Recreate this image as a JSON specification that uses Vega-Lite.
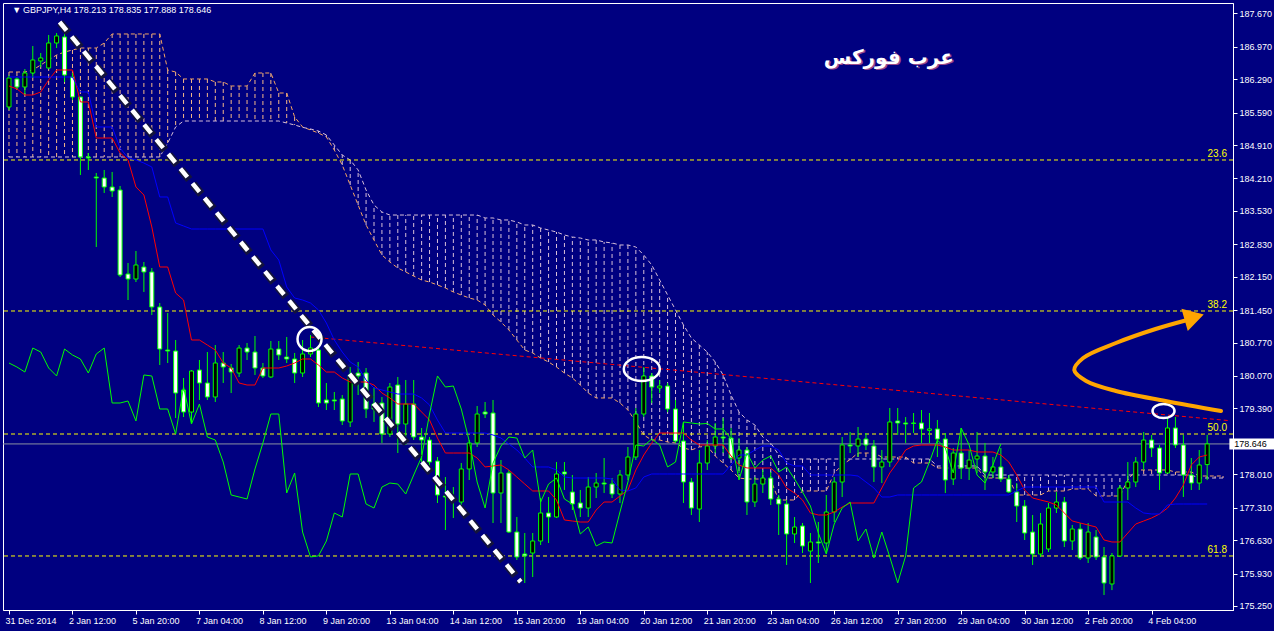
{
"$schema":"https://vega.github.io/schema/vega-lite/v6.json",
"width":1230,"height":607,
"autosize":{"type":"none"},
"padding":{"left":3,"top":3,"right":41,"bottom":21},
"background":"#000080",
"config":{"view":{"stroke":"#FFFFFF","strokeWidth":1},"axis":{"labelFont":"Liberation Sans","labelFontSize":9,"labelColor":"#FFFFFF","tickColor":"#FFFFFF","domainColor":"#FFFFFF","grid":false}},
"datasets":{"bars":[
{"i":0,"o":185.707,"h":186.377,"l":185.644,"c":186.314,"tk":186.147,"kj":186.335,"ck":180.342,"sa":186.440,"sb":184.659},
{"i":1,"o":186.294,"h":186.335,"l":186.084,"c":186.126,"tk":186.084,"kj":186.335,"ck":180.258,"sa":186.440,"sb":184.659},
{"i":2,"o":186.126,"h":186.503,"l":185.958,"c":186.419,"tk":185.958,"kj":186.335,"ck":180.153,"sa":186.440,"sb":184.659},
{"i":3,"o":186.419,"h":186.985,"l":186.314,"c":186.692,"tk":185.958,"kj":186.335,"ck":180.656,"sa":186.482,"sb":184.659},
{"i":4,"o":186.671,"h":186.838,"l":186.545,"c":186.734,"tk":186.021,"kj":186.335,"ck":180.572,"sa":186.587,"sb":184.659},
{"i":5,"o":186.524,"h":187.216,"l":186.503,"c":187.048,"tk":186.273,"kj":186.335,"ck":180.237,"sa":186.692,"sb":184.659},
{"i":6,"o":187.048,"h":187.257,"l":186.943,"c":187.195,"tk":186.482,"kj":186.335,"ck":180.070,"sa":186.796,"sb":184.659},
{"i":7,"o":187.174,"h":187.257,"l":186.231,"c":186.377,"tk":186.482,"kj":186.335,"ck":180.635,"sa":186.859,"sb":184.659},
{"i":8,"o":186.335,"h":186.419,"l":185.853,"c":185.916,"tk":186.482,"kj":186.335,"ck":180.510,"sa":186.901,"sb":184.659},
{"i":9,"o":185.916,"h":185.916,"l":184.282,"c":184.659,"tk":185.812,"kj":186.021,"ck":180.426,"sa":186.943,"sb":184.659},
{"i":10,"o":184.659,"h":184.743,"l":184.387,"c":184.638,"tk":185.812,"kj":186.021,"ck":180.132,"sa":186.943,"sb":184.659},
{"i":11,"o":184.240,"h":184.324,"l":182.773,"c":184.219,"tk":185.057,"kj":185.288,"ck":180.531,"sa":186.943,"sb":184.659},
{"i":12,"o":184.219,"h":184.387,"l":183.905,"c":184.030,"tk":185.057,"kj":185.288,"ck":180.656,"sa":187.048,"sb":184.659},
{"i":13,"o":184.030,"h":184.345,"l":183.821,"c":183.946,"tk":185.057,"kj":185.288,"ck":179.504,"sa":187.237,"sb":184.659},
{"i":14,"o":183.967,"h":184.051,"l":182.144,"c":182.186,"tk":184.743,"kj":184.848,"ck":179.504,"sa":187.237,"sb":184.659},
{"i":15,"o":182.207,"h":182.438,"l":181.662,"c":182.102,"tk":184.596,"kj":184.638,"ck":179.546,"sa":187.237,"sb":184.659},
{"i":16,"o":182.102,"h":182.689,"l":182.039,"c":182.396,"tk":184.030,"kj":184.596,"ck":179.127,"sa":187.237,"sb":184.659},
{"i":17,"o":182.354,"h":182.459,"l":181.830,"c":182.249,"tk":183.863,"kj":184.533,"ck":180.091,"sa":187.237,"sb":184.659},
{"i":18,"o":182.249,"h":182.333,"l":181.348,"c":181.516,"tk":183.192,"kj":184.449,"ck":180.070,"sa":187.237,"sb":184.659},
{"i":19,"o":181.516,"h":181.599,"l":180.300,"c":180.635,"tk":182.354,"kj":183.821,"ck":179.378,"sa":187.237,"sb":184.659},
{"i":20,"o":180.614,"h":181.390,"l":180.342,"c":180.593,"tk":182.354,"kj":183.821,"ck":179.378,"sa":186.482,"sb":184.952},
{"i":21,"o":180.593,"h":180.824,"l":179.189,"c":179.713,"tk":181.809,"kj":183.276,"ck":178.854,"sa":186.440,"sb":185.288},
{"i":22,"o":179.776,"h":180.028,"l":179.210,"c":179.315,"tk":181.662,"kj":183.213,"ck":179.839,"sa":186.294,"sb":185.413},
{"i":23,"o":179.315,"h":180.195,"l":179.085,"c":180.174,"tk":180.824,"kj":183.150,"ck":179.064,"sa":186.294,"sb":185.413},
{"i":24,"o":180.195,"h":180.405,"l":179.567,"c":179.923,"tk":180.824,"kj":183.150,"ck":179.483,"sa":186.294,"sb":185.413},
{"i":25,"o":179.923,"h":180.572,"l":179.567,"c":179.630,"tk":180.719,"kj":183.150,"ck":178.791,"sa":186.294,"sb":185.413},
{"i":26,"o":179.630,"h":180.719,"l":179.525,"c":180.342,"tk":180.614,"kj":183.150,"ck":178.728,"sa":186.231,"sb":185.413},
{"i":27,"o":180.342,"h":180.572,"l":179.923,"c":180.258,"tk":180.342,"kj":183.150,"ck":178.267,"sa":186.231,"sb":185.413},
{"i":28,"o":180.237,"h":180.321,"l":179.713,"c":180.153,"tk":180.237,"kj":183.150,"ck":177.576,"sa":186.147,"sb":185.413},
{"i":29,"o":180.132,"h":180.719,"l":180.049,"c":180.656,"tk":179.923,"kj":183.150,"ck":177.534,"sa":186.147,"sb":185.413},
{"i":30,"o":180.656,"h":180.761,"l":180.405,"c":180.572,"tk":179.881,"kj":183.150,"ck":177.492,"sa":186.147,"sb":185.413},
{"i":31,"o":180.572,"h":180.908,"l":180.091,"c":180.237,"tk":179.881,"kj":183.150,"ck":178.121,"sa":186.419,"sb":185.413},
{"i":32,"o":180.237,"h":180.342,"l":180.028,"c":180.070,"tk":180.237,"kj":183.150,"ck":178.666,"sa":186.419,"sb":185.413},
{"i":33,"o":180.049,"h":180.803,"l":180.028,"c":180.635,"tk":180.237,"kj":182.710,"ck":179.273,"sa":186.419,"sb":185.413},
{"i":34,"o":180.635,"h":180.803,"l":180.405,"c":180.510,"tk":180.237,"kj":182.500,"ck":179.273,"sa":186.000,"sb":185.413},
{"i":35,"o":180.468,"h":180.887,"l":180.342,"c":180.426,"tk":180.279,"kj":181.935,"ck":177.618,"sa":186.000,"sb":185.371},
{"i":36,"o":180.426,"h":180.552,"l":179.923,"c":180.132,"tk":180.342,"kj":181.704,"ck":178.037,"sa":185.497,"sb":185.330},
{"i":37,"o":180.132,"h":180.824,"l":180.049,"c":180.531,"tk":180.426,"kj":181.662,"ck":176.800,"sa":185.288,"sb":185.280},
{"i":38,"o":180.531,"h":180.929,"l":180.468,"c":180.656,"tk":180.426,"kj":181.599,"ck":176.277,"sa":185.225,"sb":185.246},
{"i":39,"o":180.614,"h":180.719,"l":179.420,"c":179.504,"tk":180.300,"kj":181.453,"ck":176.300,"sa":185.162,"sb":185.204},
{"i":40,"o":179.567,"h":179.923,"l":179.357,"c":179.504,"tk":180.153,"kj":181.180,"ck":176.612,"sa":185.078,"sb":185.120},
{"i":41,"o":179.567,"h":179.734,"l":179.357,"c":179.546,"tk":180.153,"kj":180.824,"ck":177.199,"sa":184.806,"sb":184.910},
{"i":42,"o":179.588,"h":179.671,"l":179.043,"c":179.127,"tk":180.028,"kj":180.572,"ck":177.115,"sa":184.491,"sb":184.701},
{"i":43,"o":179.106,"h":180.258,"l":179.001,"c":180.091,"tk":179.944,"kj":180.363,"ck":178.016,"sa":184.072,"sb":184.596},
{"i":44,"o":180.132,"h":180.363,"l":179.671,"c":180.070,"tk":179.944,"kj":180.258,"ck":178.016,"sa":183.653,"sb":184.387},
{"i":45,"o":180.132,"h":180.237,"l":179.189,"c":179.378,"tk":179.944,"kj":179.986,"ck":177.387,"sa":183.234,"sb":183.967},
{"i":46,"o":179.483,"h":179.839,"l":179.106,"c":179.378,"tk":179.881,"kj":179.818,"ck":177.303,"sa":182.920,"sb":183.653},
{"i":47,"o":179.504,"h":179.630,"l":178.666,"c":178.854,"tk":179.713,"kj":179.776,"ck":177.743,"sa":182.605,"sb":183.506},
{"i":48,"o":178.854,"h":179.923,"l":178.791,"c":179.839,"tk":179.609,"kj":179.734,"ck":177.827,"sa":182.459,"sb":183.443},
{"i":49,"o":179.881,"h":180.049,"l":178.456,"c":179.064,"tk":179.483,"kj":179.692,"ck":177.806,"sa":182.333,"sb":183.443},
{"i":50,"o":179.064,"h":179.986,"l":178.624,"c":179.483,"tk":179.483,"kj":179.692,"ck":177.597,"sa":182.249,"sb":183.443},
{"i":51,"o":179.483,"h":179.986,"l":178.728,"c":178.791,"tk":179.483,"kj":179.692,"ck":177.995,"sa":182.165,"sb":183.443},
{"i":52,"o":178.791,"h":178.980,"l":178.267,"c":178.728,"tk":179.315,"kj":179.609,"ck":178.372,"sa":182.081,"sb":183.443},
{"i":53,"o":178.728,"h":178.791,"l":178.163,"c":178.267,"tk":179.148,"kj":179.462,"ck":179.273,"sa":182.039,"sb":183.443},
{"i":54,"o":178.288,"h":178.372,"l":177.408,"c":177.576,"tk":178.770,"kj":179.148,"ck":180.070,"sa":181.977,"sb":183.443},
{"i":55,"o":177.555,"h":177.953,"l":176.842,"c":177.534,"tk":178.456,"kj":178.875,"ck":179.839,"sa":181.914,"sb":183.443},
{"i":56,"o":177.513,"h":177.743,"l":177.094,"c":177.492,"tk":178.456,"kj":178.875,"ck":179.860,"sa":181.830,"sb":183.443},
{"i":57,"o":177.429,"h":178.246,"l":177.261,"c":178.121,"tk":178.456,"kj":178.875,"ck":179.378,"sa":181.767,"sb":183.443},
{"i":58,"o":178.121,"h":178.728,"l":177.890,"c":178.666,"tk":178.456,"kj":178.875,"ck":178.707,"sa":181.704,"sb":183.443},
{"i":59,"o":178.666,"h":179.441,"l":178.582,"c":179.273,"tk":178.351,"kj":178.875,"ck":177.848,"sa":181.662,"sb":183.443},
{"i":60,"o":179.315,"h":179.525,"l":179.189,"c":179.273,"tk":178.163,"kj":178.875,"ck":177.303,"sa":181.558,"sb":183.381},
{"i":61,"o":179.294,"h":179.567,"l":176.989,"c":177.618,"tk":178.184,"kj":178.833,"ck":178.246,"sa":181.348,"sb":183.381},
{"i":62,"o":177.618,"h":178.309,"l":176.989,"c":178.037,"tk":178.205,"kj":178.770,"ck":178.603,"sa":181.201,"sb":183.339},
{"i":63,"o":178.037,"h":178.100,"l":176.779,"c":176.800,"tk":178.100,"kj":178.645,"ck":178.791,"sa":181.034,"sb":183.339},
{"i":64,"o":176.800,"h":177.115,"l":176.214,"c":176.277,"tk":177.953,"kj":178.519,"ck":178.770,"sa":180.824,"sb":183.297},
{"i":65,"o":176.340,"h":176.779,"l":175.732,"c":176.300,"tk":177.806,"kj":178.351,"ck":178.351,"sa":180.614,"sb":183.234},
{"i":66,"o":176.360,"h":176.779,"l":175.857,"c":176.612,"tk":177.660,"kj":178.163,"ck":178.519,"sa":180.552,"sb":183.234},
{"i":67,"o":176.612,"h":177.513,"l":176.528,"c":177.199,"tk":177.660,"kj":178.163,"ck":177.429,"sa":180.447,"sb":183.171},
{"i":68,"o":177.199,"h":177.534,"l":176.570,"c":177.115,"tk":177.660,"kj":178.163,"ck":177.806,"sa":180.363,"sb":183.129},
{"i":69,"o":177.115,"h":178.267,"l":177.094,"c":178.016,"tk":177.471,"kj":178.100,"ck":177.932,"sa":180.258,"sb":183.087},
{"i":70,"o":178.058,"h":178.267,"l":177.681,"c":178.016,"tk":177.052,"kj":177.953,"ck":177.492,"sa":180.132,"sb":183.024},
{"i":71,"o":177.639,"h":177.995,"l":177.261,"c":177.387,"tk":177.031,"kj":177.932,"ck":177.387,"sa":180.028,"sb":182.982},
{"i":72,"o":177.408,"h":177.681,"l":177.115,"c":177.303,"tk":177.010,"kj":177.932,"ck":176.759,"sa":179.881,"sb":182.961},
{"i":73,"o":177.303,"h":177.953,"l":177.115,"c":177.743,"tk":177.010,"kj":177.932,"ck":176.905,"sa":179.713,"sb":182.920},
{"i":74,"o":177.743,"h":178.037,"l":177.513,"c":177.827,"tk":177.261,"kj":177.932,"ck":176.507,"sa":179.609,"sb":182.920},
{"i":75,"o":177.827,"h":178.351,"l":177.618,"c":177.806,"tk":177.429,"kj":177.932,"ck":176.591,"sa":179.609,"sb":182.878},
{"i":76,"o":177.806,"h":177.932,"l":177.513,"c":177.597,"tk":177.429,"kj":177.911,"ck":176.570,"sa":179.609,"sb":182.857},
{"i":77,"o":177.597,"h":178.100,"l":177.408,"c":177.995,"tk":177.555,"kj":177.681,"ck":177.220,"sa":179.504,"sb":182.815},
{"i":78,"o":177.995,"h":178.582,"l":177.890,"c":178.372,"tk":177.681,"kj":177.660,"ck":177.848,"sa":179.357,"sb":182.815},
{"i":79,"o":178.372,"h":179.399,"l":178.309,"c":179.273,"tk":178.100,"kj":177.723,"ck":178.624,"sa":179.106,"sb":182.773},
{"i":80,"o":179.273,"h":180.258,"l":179.210,"c":180.070,"tk":178.414,"kj":177.953,"ck":178.603,"sa":178.833,"sb":182.605},
{"i":81,"o":180.070,"h":180.132,"l":179.504,"c":179.839,"tk":178.666,"kj":178.016,"ck":178.749,"sa":178.728,"sb":182.396},
{"i":82,"o":179.818,"h":179.986,"l":179.713,"c":179.860,"tk":178.875,"kj":178.016,"ck":178.624,"sa":178.728,"sb":182.081},
{"i":83,"o":179.860,"h":179.923,"l":179.315,"c":179.378,"tk":178.875,"kj":178.016,"ck":178.163,"sa":178.687,"sb":181.767},
{"i":84,"o":179.378,"h":179.567,"l":178.666,"c":178.707,"tk":178.875,"kj":178.016,"ck":178.267,"sa":178.666,"sb":181.453},
{"i":85,"o":178.707,"h":179.106,"l":177.408,"c":177.848,"tk":178.875,"kj":178.016,"ck":179.106,"sa":178.561,"sb":181.138},
{"i":86,"o":177.848,"h":177.932,"l":177.157,"c":177.303,"tk":178.728,"kj":178.016,"ck":179.085,"sa":178.519,"sb":180.866},
{"i":87,"o":177.282,"h":178.519,"l":177.010,"c":178.246,"tk":178.624,"kj":178.016,"ck":179.064,"sa":178.582,"sb":180.719},
{"i":88,"o":178.246,"h":178.728,"l":178.100,"c":178.603,"tk":178.624,"kj":178.016,"ck":179.075,"sa":178.603,"sb":180.572},
{"i":89,"o":178.603,"h":179.085,"l":178.456,"c":178.791,"tk":178.624,"kj":178.016,"ck":178.959,"sa":178.393,"sb":180.363},
{"i":90,"o":178.791,"h":179.189,"l":178.456,"c":178.770,"tk":178.624,"kj":178.016,"ck":178.960,"sa":178.246,"sb":180.091},
{"i":91,"o":178.770,"h":178.980,"l":178.309,"c":178.351,"tk":178.393,"kj":178.205,"ck":178.749,"sa":178.100,"sb":179.671},
{"i":92,"o":178.351,"h":178.770,"l":178.037,"c":178.519,"tk":178.205,"kj":178.414,"ck":177.890,"sa":177.932,"sb":179.315},
{"i":93,"o":178.519,"h":178.582,"l":177.157,"c":177.429,"tk":178.142,"kj":178.414,"ck":178.456,"sa":177.911,"sb":179.148},
{"i":94,"o":177.429,"h":177.953,"l":177.324,"c":177.806,"tk":178.142,"kj":178.519,"ck":178.142,"sa":177.911,"sb":179.043},
{"i":95,"o":177.806,"h":178.100,"l":177.618,"c":177.932,"tk":178.142,"kj":178.603,"ck":178.309,"sa":177.911,"sb":178.791},
{"i":96,"o":177.932,"h":178.058,"l":177.366,"c":177.492,"tk":178.142,"kj":178.603,"ck":178.393,"sa":177.890,"sb":178.666},
{"i":97,"o":177.492,"h":177.576,"l":176.738,"c":177.387,"tk":177.995,"kj":178.519,"ck":178.058,"sa":177.471,"sb":178.414},
{"i":98,"o":177.387,"h":177.471,"l":176.109,"c":176.759,"tk":177.723,"kj":178.246,"ck":178.163,"sa":177.471,"sb":178.330},
{"i":99,"o":176.759,"h":177.115,"l":176.570,"c":176.905,"tk":177.618,"kj":178.184,"ck":177.911,"sa":177.471,"sb":178.330},
{"i":100,"o":176.926,"h":176.989,"l":176.360,"c":176.507,"tk":177.471,"kj":178.184,"ck":177.639,"sa":177.660,"sb":178.330},
{"i":101,"o":176.402,"h":176.779,"l":175.732,"c":176.591,"tk":177.199,"kj":177.995,"ck":177.345,"sa":177.660,"sb":178.330},
{"i":102,"o":176.591,"h":177.010,"l":176.151,"c":176.570,"tk":177.157,"kj":177.995,"ck":176.779,"sa":177.660,"sb":178.330},
{"i":103,"o":176.570,"h":177.576,"l":176.360,"c":177.220,"tk":177.157,"kj":177.995,"ck":176.339,"sa":177.660,"sb":178.330},
{"i":104,"o":177.220,"h":177.953,"l":177.010,"c":177.848,"tk":177.220,"kj":177.995,"ck":176.968,"sa":178.037,"sb":178.330},
{"i":105,"o":177.848,"h":178.791,"l":177.534,"c":178.624,"tk":177.324,"kj":177.995,"ck":177.303,"sa":178.205,"sb":178.330},
{"i":106,"o":178.624,"h":178.896,"l":178.456,"c":178.603,"tk":177.408,"kj":177.995,"ck":177.429,"sa":178.320,"sb":178.330},
{"i":107,"o":178.603,"h":179.001,"l":178.372,"c":178.749,"tk":177.408,"kj":177.974,"ck":176.612,"sa":178.456,"sb":178.330},
{"i":108,"o":178.749,"h":178.875,"l":178.519,"c":178.624,"tk":177.408,"kj":177.848,"ck":176.863,"sa":178.456,"sb":178.330},
{"i":109,"o":178.603,"h":178.728,"l":177.848,"c":178.163,"tk":177.408,"kj":177.723,"ck":176.256,"sa":178.456,"sb":178.330},
{"i":110,"o":178.163,"h":178.519,"l":177.827,"c":178.267,"tk":177.723,"kj":177.534,"ck":176.800,"sa":178.372,"sb":178.330},
{"i":111,"o":178.267,"h":179.399,"l":178.163,"c":179.106,"tk":178.037,"kj":177.534,"ck":176.277,"sa":178.372,"sb":178.330},
{"i":112,"o":179.127,"h":179.399,"l":178.833,"c":179.085,"tk":178.267,"kj":177.576,"ck":175.732,"sa":178.372,"sb":178.330},
{"i":113,"o":179.085,"h":179.210,"l":178.666,"c":179.064,"tk":178.519,"kj":177.576,"ck":176.298,"sa":178.372,"sb":178.330},
{"i":114,"o":179.085,"h":179.294,"l":178.875,"c":179.075,"tk":178.603,"kj":177.576,"ck":177.723,"sa":178.246,"sb":178.330},
{"i":115,"o":179.085,"h":179.357,"l":178.666,"c":178.959,"tk":178.624,"kj":177.576,"ck":177.848,"sa":178.246,"sb":178.330},
{"i":116,"o":178.930,"h":179.294,"l":178.666,"c":178.960,"tk":178.624,"kj":177.576,"ck":178.267,"sa":178.246,"sb":178.330},
{"i":117,"o":178.959,"h":179.148,"l":178.372,"c":178.749,"tk":178.624,"kj":177.576,"ck":178.728,"sa":178.142,"sb":178.184},
{"i":118,"o":178.749,"h":178.875,"l":177.618,"c":177.890,"tk":178.582,"kj":177.576,"ck":178.561,"sa":178.142,"sb":178.184},
{"i":119,"o":177.911,"h":178.561,"l":177.785,"c":178.456,"tk":178.519,"kj":177.576,"ck":178.037,"sa":178.142,"sb":178.184},
{"i":120,"o":178.456,"h":178.980,"l":177.911,"c":178.142,"tk":178.519,"kj":177.576,"ck":178.980,"sa":178.142,"sb":178.184},
{"i":121,"o":178.142,"h":178.519,"l":177.890,"c":178.309,"tk":178.519,"kj":177.576,"ck":178.624,"sa":178.142,"sb":178.184},
{"i":122,"o":178.330,"h":178.896,"l":178.037,"c":178.393,"tk":178.477,"kj":177.576,"ck":177.995,"sa":178.142,"sb":178.184},
{"i":123,"o":178.393,"h":178.666,"l":177.681,"c":178.058,"tk":178.477,"kj":177.576,"ck":177.827,"sa":177.932,"sb":177.995},
{"i":124,"o":178.058,"h":178.372,"l":177.932,"c":178.163,"tk":178.477,"kj":177.576,"ck":178.205,"sa":177.932,"sb":177.995},
{"i":125,"o":178.163,"h":178.561,"l":177.848,"c":177.911,"tk":178.414,"kj":177.576,"ck":178.646,"sa":177.932,"sb":177.995},
{"i":126,"o":177.911,"h":177.995,"l":177.618,"c":177.639,"tk":178.267,"kj":177.576,"sa":177.932,"sb":177.995},
{"i":127,"o":177.639,"h":177.827,"l":177.010,"c":177.345,"tk":177.995,"kj":177.660,"sa":177.576,"sb":177.995},
{"i":128,"o":177.345,"h":177.471,"l":176.633,"c":176.779,"tk":177.681,"kj":177.743,"sa":177.576,"sb":177.995},
{"i":129,"o":176.800,"h":177.157,"l":176.109,"c":176.339,"tk":177.513,"kj":177.743,"sa":177.576,"sb":177.995},
{"i":130,"o":176.339,"h":177.199,"l":176.277,"c":176.968,"tk":177.471,"kj":177.743,"sa":177.576,"sb":177.995},
{"i":131,"o":176.444,"h":177.408,"l":176.381,"c":177.303,"tk":177.429,"kj":177.743,"sa":177.660,"sb":177.995},
{"i":132,"o":177.303,"h":177.639,"l":177.199,"c":177.429,"tk":177.366,"kj":177.743,"sa":177.660,"sb":177.995},
{"i":133,"o":177.429,"h":177.534,"l":176.486,"c":176.612,"tk":177.199,"kj":177.743,"sa":177.660,"sb":177.995},
{"i":134,"o":176.612,"h":176.947,"l":176.423,"c":176.863,"tk":177.031,"kj":177.743,"sa":177.702,"sb":177.995},
{"i":135,"o":176.863,"h":176.989,"l":176.214,"c":176.256,"tk":176.989,"kj":177.743,"sa":177.702,"sb":177.995},
{"i":136,"o":176.256,"h":176.989,"l":176.151,"c":176.800,"tk":176.947,"kj":177.743,"sa":177.702,"sb":177.995},
{"i":137,"o":176.696,"h":176.842,"l":176.214,"c":176.277,"tk":176.905,"kj":177.743,"sa":177.555,"sb":177.995},
{"i":138,"o":176.277,"h":176.486,"l":175.480,"c":175.732,"tk":176.633,"kj":177.429,"sa":177.555,"sb":177.995},
{"i":139,"o":175.711,"h":176.360,"l":175.583,"c":176.298,"tk":176.591,"kj":177.429,"sa":177.555,"sb":177.995},
{"i":140,"o":176.298,"h":177.785,"l":176.277,"c":177.723,"tk":176.591,"kj":177.429,"sa":177.555,"sb":177.995},
{"i":141,"o":177.723,"h":178.267,"l":177.471,"c":177.848,"tk":176.779,"kj":177.429,"sa":177.890,"sb":177.995},
{"i":142,"o":177.848,"h":178.372,"l":177.743,"c":178.267,"tk":176.968,"kj":177.303,"sa":178.100,"sb":177.995},
{"i":143,"o":178.267,"h":178.896,"l":178.100,"c":178.728,"tk":177.031,"kj":177.199,"sa":178.100,"sb":177.995},
{"i":144,"o":178.728,"h":178.833,"l":178.372,"c":178.561,"tk":177.094,"kj":177.178,"sa":178.100,"sb":177.995},
{"i":145,"o":178.561,"h":178.624,"l":177.681,"c":178.037,"tk":177.178,"kj":177.178,"sa":178.100,"sb":177.995},
{"i":146,"o":178.037,"h":179.210,"l":178.037,"c":178.980,"tk":177.303,"kj":177.366,"sa":178.100,"sb":177.995},
{"i":147,"o":178.980,"h":179.210,"l":178.561,"c":178.624,"tk":177.513,"kj":177.387,"sa":178.058,"sb":177.995},
{"i":148,"o":178.624,"h":178.833,"l":177.534,"c":177.995,"tk":177.785,"kj":177.387,"sa":178.058,"sb":177.995},
{"i":149,"o":177.995,"h":178.351,"l":177.681,"c":177.827,"tk":178.205,"kj":177.387,"sa":178.058,"sb":177.995},
{"i":150,"o":177.827,"h":178.519,"l":177.681,"c":178.205,"tk":178.372,"kj":177.387,"sa":177.974,"sb":177.932},
{"i":151,"o":178.213,"h":178.835,"l":177.888,"c":178.646,"tk":178.414,"kj":177.387,"sa":177.974,"sb":177.932},
{"i":152,"sa":177.974,"sb":177.932},
{"i":153,"sa":177.974,"sb":177.932}
]},
"data":{"name":"bars"},
"encoding":{"x":{"field":"i","type":"quantitative","scale":{"domain":[-0.125,153.625],"nice":false,"zero":false},"axis":{"title":null,"values":[0,8,16,24,32,40,48,56,64,72,80,88,96,104,112,120,128,136,144],"labelExpr":"['31 Dec 2014','2 Jan 12:00','5 Jan 20:00','7 Jan 04:00','8 Jan 12:00','9 Jan 20:00','13 Jan 04:00','14 Jan 12:00','15 Jan 20:00','19 Jan 04:00','20 Jan 12:00','21 Jan 20:00','23 Jan 04:00','26 Jan 12:00','27 Jan 20:00','29 Jan 04:00','30 Jan 12:00','2 Feb 20:00','4 Feb 04:00'][round(datum.value/8)]","labelAlign":"left","labelFlush":false,"labelOverlap":false,"labelBound":false,"tickSize":4,"labelPadding":2,"labelOffset":-4}}},
"layer":[
{"mark":{"type":"rule","strokeDash":[4,3],"strokeWidth":1},
 "encoding":{"y":{"field":"sa","type":"quantitative","scale":{"domain":[175.166,187.886],"nice":false,"zero":false},"axis":{"title":null,"orient":"right","values":[175.25,175.93,176.63,177.31,178.01,178.646,179.39,180.07,180.77,181.45,182.15,182.83,183.53,184.21,184.91,185.59,186.29,186.97,187.67],"labelExpr":"datum.value == 178.646 ? '' : format(datum.value, '.3f')","tickSize":4,"labelPadding":2,"labelOverlap":false,"labelFlush":false,"labelBound":false}},
 "y2":{"field":"sb"},
 "color":{"condition":{"test":"datum.sa > datum.sb","value":"#F6B888"},"value":"#D8BFD8"}}},
{"mark":{"type":"line","stroke":"#F4A460","strokeDash":[4,3],"strokeWidth":1},
 "encoding":{"y":{"field":"sa","type":"quantitative","scale":{"domain":[175.166,187.886],"nice":false,"zero":false},"axis":{"title":null,"orient":"right","values":[175.25,175.93,176.63,177.31,178.01,178.646,179.39,180.07,180.77,181.45,182.15,182.83,183.53,184.21,184.91,185.59,186.29,186.97,187.67],"labelExpr":"datum.value == 178.646 ? '' : format(datum.value, '.3f')","tickSize":4,"labelPadding":2,"labelOverlap":false,"labelFlush":false,"labelBound":false}}}},
{"mark":{"type":"line","stroke":"#D8BFD8","strokeDash":[4,3],"strokeWidth":1},
 "encoding":{"y":{"field":"sb","type":"quantitative","scale":{"domain":[175.166,187.886],"nice":false,"zero":false},"axis":{"title":null,"orient":"right","values":[175.25,175.93,176.63,177.31,178.01,178.646,179.39,180.07,180.77,181.45,182.15,182.83,183.53,184.21,184.91,185.59,186.29,186.97,187.67],"labelExpr":"datum.value == 178.646 ? '' : format(datum.value, '.3f')","tickSize":4,"labelPadding":2,"labelOverlap":false,"labelFlush":false,"labelBound":false}}}},
{"data":{"values":[{"p":184.596,"t":"23.6","i":153.5},{"p":181.432,"t":"38.2","i":153.5},{"p":178.854,"t":"50.0","i":153.5},{"p":176.298,"t":"61.8","i":153.5}]},
 "mark":{"type":"rule","stroke":"#FFFF00","strokeDash":[4,3],"strokeWidth":1},
 "encoding":{"x":null,"y":{"field":"p","type":"quantitative","scale":{"domain":[175.166,187.886],"nice":false,"zero":false},"axis":{"title":null,"orient":"right","values":[175.25,175.93,176.63,177.31,178.01,178.646,179.39,180.07,180.77,181.45,182.15,182.83,183.53,184.21,184.91,185.59,186.29,186.97,187.67],"labelExpr":"datum.value == 178.646 ? '' : format(datum.value, '.3f')","tickSize":4,"labelPadding":2,"labelOverlap":false,"labelFlush":false,"labelBound":false}}}},
{"data":{"values":[{"p":184.596,"t":"23.6","i":153.5},{"p":181.432,"t":"38.2","i":153.5},{"p":178.854,"t":"50.0","i":153.5},{"p":176.298,"t":"61.8","i":153.5}]},
 "mark":{"type":"text","color":"#FFFF00","align":"right","baseline":"bottom","dy":-1,"font":"Liberation Sans","fontSize":10},
 "encoding":{"y":{"field":"p","type":"quantitative","scale":{"domain":[175.166,187.886],"nice":false,"zero":false},"axis":{"title":null,"orient":"right","values":[175.25,175.93,176.63,177.31,178.01,178.646,179.39,180.07,180.77,181.45,182.15,182.83,183.53,184.21,184.91,185.59,186.29,186.97,187.67],"labelExpr":"datum.value == 178.646 ? '' : format(datum.value, '.3f')","tickSize":4,"labelPadding":2,"labelOverlap":false,"labelFlush":false,"labelBound":false}},"text":{"field":"t"}}},
{"data":{"values":[{"p":178.646}]},
 "mark":{"type":"rule","stroke":"#8A90A0","strokeWidth":1},
 "encoding":{"x":null,"y":{"field":"p","type":"quantitative","scale":{"domain":[175.166,187.886],"nice":false,"zero":false},"axis":{"title":null,"orient":"right","values":[175.25,175.93,176.63,177.31,178.01,178.646,179.39,180.07,180.77,181.45,182.15,182.83,183.53,184.21,184.91,185.59,186.29,186.97,187.67],"labelExpr":"datum.value == 178.646 ? '' : format(datum.value, '.3f')","tickSize":4,"labelPadding":2,"labelOverlap":false,"labelFlush":false,"labelBound":false}}}},
{"data":{"values":[{"i":38.0,"p":180.887},{"i":153.6,"p":179.137}]},
 "mark":{"type":"line","stroke":"#FF0000","strokeDash":[4,3],"strokeWidth":1},
 "encoding":{"y":{"field":"p","type":"quantitative","scale":{"domain":[175.166,187.886],"nice":false,"zero":false},"axis":{"title":null,"orient":"right","values":[175.25,175.93,176.63,177.31,178.01,178.646,179.39,180.07,180.77,181.45,182.15,182.83,183.53,184.21,184.91,185.59,186.29,186.97,187.67],"labelExpr":"datum.value == 178.646 ? '' : format(datum.value, '.3f')","tickSize":4,"labelPadding":2,"labelOverlap":false,"labelFlush":false,"labelBound":false}}}},
{"mark":{"type":"rule","stroke":"#00FF00","strokeWidth":1},
 "encoding":{"y":{"field":"l","type":"quantitative","scale":{"domain":[175.166,187.886],"nice":false,"zero":false},"axis":{"title":null,"orient":"right","values":[175.25,175.93,176.63,177.31,178.01,178.646,179.39,180.07,180.77,181.45,182.15,182.83,183.53,184.21,184.91,185.59,186.29,186.97,187.67],"labelExpr":"datum.value == 178.646 ? '' : format(datum.value, '.3f')","tickSize":4,"labelPadding":2,"labelOverlap":false,"labelFlush":false,"labelBound":false}},"y2":{"field":"h"}}},
{"mark":{"type":"bar","size":4,"stroke":"#00FF00","strokeWidth":1},
 "encoding":{"y":{"field":"o","type":"quantitative","scale":{"domain":[175.166,187.886],"nice":false,"zero":false},"axis":{"title":null,"orient":"right","values":[175.25,175.93,176.63,177.31,178.01,178.646,179.39,180.07,180.77,181.45,182.15,182.83,183.53,184.21,184.91,185.59,186.29,186.97,187.67],"labelExpr":"datum.value == 178.646 ? '' : format(datum.value, '.3f')","tickSize":4,"labelPadding":2,"labelOverlap":false,"labelFlush":false,"labelBound":false}},"y2":{"field":"c"},
 "fill":{"condition":{"test":"datum.c > datum.o","value":"#000000"},"value":"#FFFFFF"}}},
{"mark":{"type":"line","stroke":"#FF0000","strokeWidth":1},
 "encoding":{"y":{"field":"tk","type":"quantitative","scale":{"domain":[175.166,187.886],"nice":false,"zero":false},"axis":{"title":null,"orient":"right","values":[175.25,175.93,176.63,177.31,178.01,178.646,179.39,180.07,180.77,181.45,182.15,182.83,183.53,184.21,184.91,185.59,186.29,186.97,187.67],"labelExpr":"datum.value == 178.646 ? '' : format(datum.value, '.3f')","tickSize":4,"labelPadding":2,"labelOverlap":false,"labelFlush":false,"labelBound":false}}}},
{"mark":{"type":"line","stroke":"#0000FF","strokeWidth":1},
 "encoding":{"y":{"field":"kj","type":"quantitative","scale":{"domain":[175.166,187.886],"nice":false,"zero":false},"axis":{"title":null,"orient":"right","values":[175.25,175.93,176.63,177.31,178.01,178.646,179.39,180.07,180.77,181.45,182.15,182.83,183.53,184.21,184.91,185.59,186.29,186.97,187.67],"labelExpr":"datum.value == 178.646 ? '' : format(datum.value, '.3f')","tickSize":4,"labelPadding":2,"labelOverlap":false,"labelFlush":false,"labelBound":false}}}},
{"mark":{"type":"line","stroke":"#00FF00","strokeWidth":1},
 "encoding":{"y":{"field":"ck","type":"quantitative","scale":{"domain":[175.166,187.886],"nice":false,"zero":false},"axis":{"title":null,"orient":"right","values":[175.25,175.93,176.63,177.31,178.01,178.646,179.39,180.07,180.77,181.45,182.15,182.83,183.53,184.21,184.91,185.59,186.29,186.97,187.67],"labelExpr":"datum.value == 178.646 ? '' : format(datum.value, '.3f')","tickSize":4,"labelPadding":2,"labelOverlap":false,"labelFlush":false,"labelBound":false}}}},
{"data":{"values":[{"i":6.375,"p":187.488},{"i":64.5,"p":175.753}]},
 "mark":{"type":"line","stroke":"#14143C","strokeWidth":8,"strokeDash":[13,6],"strokeDashOffset":-1},
 "encoding":{"y":{"field":"p","type":"quantitative","scale":{"domain":[175.166,187.886],"nice":false,"zero":false},"axis":{"title":null,"orient":"right","values":[175.25,175.93,176.63,177.31,178.01,178.646,179.39,180.07,180.77,181.45,182.15,182.83,183.53,184.21,184.91,185.59,186.29,186.97,187.67],"labelExpr":"datum.value == 178.646 ? '' : format(datum.value, '.3f')","tickSize":4,"labelPadding":2,"labelOverlap":false,"labelFlush":false,"labelBound":false}}}},
{"data":{"values":[{"i":6.375,"p":187.488},{"i":64.5,"p":175.753}]},
 "mark":{"type":"line","stroke":"#FFFFFF","strokeWidth":4.5,"strokeDash":[11,8]},
 "encoding":{"y":{"field":"p","type":"quantitative","scale":{"domain":[175.166,187.886],"nice":false,"zero":false},"axis":{"title":null,"orient":"right","values":[175.25,175.93,176.63,177.31,178.01,178.646,179.39,180.07,180.77,181.45,182.15,182.83,183.53,184.21,184.91,185.59,186.29,186.97,187.67],"labelExpr":"datum.value == 178.646 ? '' : format(datum.value, '.3f')","tickSize":4,"labelPadding":2,"labelOverlap":false,"labelFlush":false,"labelBound":false}}}},
{"data":{"values":[{"i":37.875,"p":180.845}]},
 "mark":{"type":"point","shape":"circle","size":576,"stroke":"#FFFFFF","strokeWidth":2.5,"filled":false,"opacity":1},
 "encoding":{"y":{"field":"p","type":"quantitative","scale":{"domain":[175.166,187.886],"nice":false,"zero":false},"axis":{"title":null,"orient":"right","values":[175.25,175.93,176.63,177.31,178.01,178.646,179.39,180.07,180.77,181.45,182.15,182.83,183.53,184.21,184.91,185.59,186.29,186.97,187.67],"labelExpr":"datum.value == 178.646 ? '' : format(datum.value, '.3f')","tickSize":4,"labelPadding":2,"labelOverlap":false,"labelFlush":false,"labelBound":false}}}},
{"data":{"values":[{"i":79.75,"p":180.216}]},
 "mark":{"type":"point","shape":"M -1 0 A 1 0.667 0 1 0 1 0 A 1 0.667 0 1 0 -1 0 Z","size":1296,"stroke":"#FFFFFF","strokeWidth":2.5,"filled":false,"opacity":1},
 "encoding":{"y":{"field":"p","type":"quantitative","scale":{"domain":[175.166,187.886],"nice":false,"zero":false},"axis":{"title":null,"orient":"right","values":[175.25,175.93,176.63,177.31,178.01,178.646,179.39,180.07,180.77,181.45,182.15,182.83,183.53,184.21,184.91,185.59,186.29,186.97,187.67],"labelExpr":"datum.value == 178.646 ? '' : format(datum.value, '.3f')","tickSize":4,"labelPadding":2,"labelOverlap":false,"labelFlush":false,"labelBound":false}}}},
{"data":{"values":[{"i":145.5,"p":179.336}]},
 "mark":{"type":"point","shape":"M -1 0 A 1 0.64 0 1 0 1 0 A 1 0.64 0 1 0 -1 0 Z","size":484,"stroke":"#FFFFFF","strokeWidth":2.5,"filled":false,"opacity":1},
 "encoding":{"y":{"field":"p","type":"quantitative","scale":{"domain":[175.166,187.886],"nice":false,"zero":false},"axis":{"title":null,"orient":"right","values":[175.25,175.93,176.63,177.31,178.01,178.646,179.39,180.07,180.77,181.45,182.15,182.83,183.53,184.21,184.91,185.59,186.29,186.97,187.67],"labelExpr":"datum.value == 178.646 ? '' : format(datum.value, '.3f')","tickSize":4,"labelPadding":2,"labelOverlap":false,"labelFlush":false,"labelBound":false}}}},
{"data":{"values":[{"i":152.75,"p":179.336,"k":0},{"i":145.75,"p":179.546,"k":1},{"i":139.5,"p":179.755,"k":2},{"i":135.75,"p":179.965,"k":3},{"i":134.25,"p":180.195,"k":4},{"i":135.375,"p":180.447,"k":5},{"i":139.5,"p":180.761,"k":6},{"i":144.5,"p":181.054,"k":7},{"i":148.5,"p":181.243,"k":8}]},
 "mark":{"type":"line","stroke":"#FFA500","strokeWidth":4,"interpolate":"catmull-rom","strokeCap":"round"},
 "encoding":{"y":{"field":"p","type":"quantitative","scale":{"domain":[175.166,187.886],"nice":false,"zero":false},"axis":{"title":null,"orient":"right","values":[175.25,175.93,176.63,177.31,178.01,178.646,179.39,180.07,180.77,181.45,182.15,182.83,183.53,184.21,184.91,185.59,186.29,186.97,187.67],"labelExpr":"datum.value == 178.646 ? '' : format(datum.value, '.3f')","tickSize":4,"labelPadding":2,"labelOverlap":false,"labelFlush":false,"labelBound":false}},"order":{"field":"k","type":"quantitative"}}},
{"data":{"values":[{"i":149.3,"p":181.3}]},
 "mark":{"type":"point","shape":"triangle-up","size":380,"angle":74,"filled":true,"fill":"#FFA500","stroke":"#FFA500","opacity":1},
 "encoding":{"y":{"field":"p","type":"quantitative","scale":{"domain":[175.166,187.886],"nice":false,"zero":false},"axis":{"title":null,"orient":"right","values":[175.25,175.93,176.63,177.31,178.01,178.646,179.39,180.07,180.77,181.45,182.15,182.83,183.53,184.21,184.91,185.59,186.29,186.97,187.67],"labelExpr":"datum.value == 178.646 ? '' : format(datum.value, '.3f')","tickSize":4,"labelPadding":2,"labelOverlap":false,"labelFlush":false,"labelBound":false}}}},
{"data":{"values":[{"i":110.875,"p":186.734,"t":"عرب فوركس"}]},
 "mark":{"type":"text","color":"#9A4A8A","font":"DejaVu Sans","fontWeight":"bold","fontSize":20,"align":"center","baseline":"middle","dx":1.5,"dy":1.5},
 "encoding":{"y":{"field":"p","type":"quantitative","scale":{"domain":[175.166,187.886],"nice":false,"zero":false},"axis":{"title":null,"orient":"right","values":[175.25,175.93,176.63,177.31,178.01,178.646,179.39,180.07,180.77,181.45,182.15,182.83,183.53,184.21,184.91,185.59,186.29,186.97,187.67],"labelExpr":"datum.value == 178.646 ? '' : format(datum.value, '.3f')","tickSize":4,"labelPadding":2,"labelOverlap":false,"labelFlush":false,"labelBound":false}},"text":{"field":"t"}}},
{"data":{"values":[{"i":110.875,"p":186.734,"t":"عرب فوركس"}]},
 "mark":{"type":"text","color":"#FFFFFF","font":"DejaVu Sans","fontWeight":"bold","fontSize":20,"align":"center","baseline":"middle"},
 "encoding":{"y":{"field":"p","type":"quantitative","scale":{"domain":[175.166,187.886],"nice":false,"zero":false},"axis":{"title":null,"orient":"right","values":[175.25,175.93,176.63,177.31,178.01,178.646,179.39,180.07,180.77,181.45,182.15,182.83,183.53,184.21,184.91,185.59,186.29,186.97,187.67],"labelExpr":"datum.value == 178.646 ? '' : format(datum.value, '.3f')","tickSize":4,"labelPadding":2,"labelOverlap":false,"labelFlush":false,"labelBound":false}},"text":{"field":"t"}}},
{"data":{"values":[{"i":0.4,"p":187.739,"t":"▼"},{"i":1.75,"p":187.739,"t":"GBPJPY,H4  178.213 178.835 177.888 178.646"}]},
 "mark":{"type":"text","color":"#FFFFFF","align":"left","baseline":"middle","font":"Liberation Sans","fontSize":9},
 "encoding":{"y":{"field":"p","type":"quantitative","scale":{"domain":[175.166,187.886],"nice":false,"zero":false},"axis":{"title":null,"orient":"right","values":[175.25,175.93,176.63,177.31,178.01,178.646,179.39,180.07,180.77,181.45,182.15,182.83,183.53,184.21,184.91,185.59,186.29,186.97,187.67],"labelExpr":"datum.value == 178.646 ? '' : format(datum.value, '.3f')","tickSize":4,"labelPadding":2,"labelOverlap":false,"labelFlush":false,"labelBound":false}},"text":{"field":"t"}}},
{"data":{"values":[{"i":153.8,"i2":159.5,"p":178.760,"p2":178.529}]},
 "mark":{"type":"rect","fill":"#FFFFFF"},
 "encoding":{"x2":{"field":"i2"},"y":{"field":"p","type":"quantitative","scale":{"domain":[175.166,187.886],"nice":false,"zero":false},"axis":{"title":null,"orient":"right","values":[175.25,175.93,176.63,177.31,178.01,178.646,179.39,180.07,180.77,181.45,182.15,182.83,183.53,184.21,184.91,185.59,186.29,186.97,187.67],"labelExpr":"datum.value == 178.646 ? '' : format(datum.value, '.3f')","tickSize":4,"labelPadding":2,"labelOverlap":false,"labelFlush":false,"labelBound":false}},"y2":{"field":"p2"}}},
{"data":{"values":[{"i":154.4,"p":178.646,"t":"178.646"}]},
 "mark":{"type":"text","color":"#000000","align":"left","baseline":"middle","font":"Liberation Sans","fontSize":9},
 "encoding":{"y":{"field":"p","type":"quantitative","scale":{"domain":[175.166,187.886],"nice":false,"zero":false},"axis":{"title":null,"orient":"right","values":[175.25,175.93,176.63,177.31,178.01,178.646,179.39,180.07,180.77,181.45,182.15,182.83,183.53,184.21,184.91,185.59,186.29,186.97,187.67],"labelExpr":"datum.value == 178.646 ? '' : format(datum.value, '.3f')","tickSize":4,"labelPadding":2,"labelOverlap":false,"labelFlush":false,"labelBound":false}},"text":{"field":"t"}}}
]
}
